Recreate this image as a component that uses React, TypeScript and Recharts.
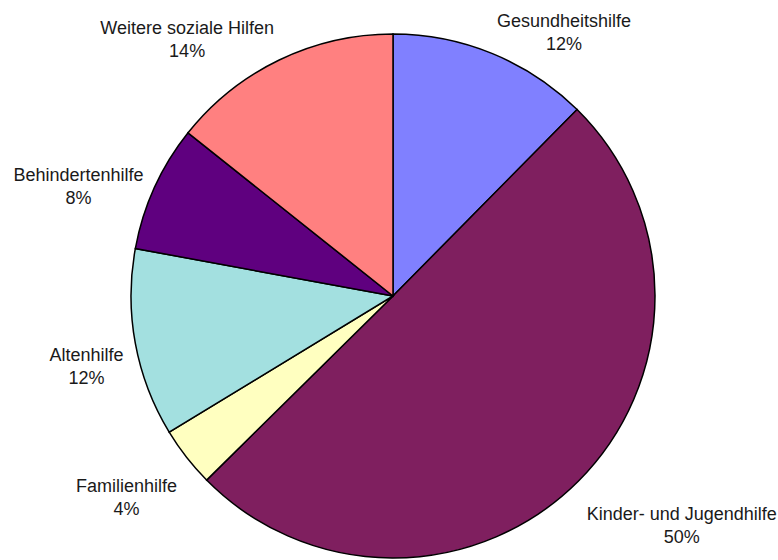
import React from 'react';
import { PieChart, Pie, Cell } from 'recharts';

const categories = [
  'Gesundheitshilfe',
  'Kinder- und Jugendhilfe',
  'Familienhilfe',
  'Altenhilfe',
  'Behindertenhilfe',
  'Weitere soziale Hilfen',
];
const shares = [12.4, 50.2, 3.7, 11.6, 7.8, 14.3];
const colors = ['#8080FF', '#7F1F5F', '#FFFFC0', '#A3E0E0', '#5F007F', '#FF8080'];

const data = categories.map((name, i) => ({ name, value: shares[i] }));

const FONT = "'Liberation Sans', Arial, sans-serif";
const FONT_SIZE = 18;

let ctx: CanvasRenderingContext2D | null = null;
const measure = (s: string): number => {
  try {
    if (!ctx) ctx = document.createElement('canvas').getContext('2d');
    if (ctx) {
      ctx.font = `${FONT_SIZE}px ${FONT}`;
      return ctx.measureText(s).width;
    }
  } catch (e) {}
  return s.length * FONT_SIZE * 0.5;
};

const renderLabel = (props: any) => {
  const { cx, cy, midAngle, outerRadius, percent, index } = props;
  const rad = (midAngle * Math.PI) / 180;
  const sinT = Math.cos(rad);
  const cosT = Math.sin(rad);
  const name = categories[index];
  const pct = `${Math.round(percent * 100)}%`;
  const w = Math.max(measure(name), measure(pct));
  const edgeX = cx + (outerRadius + 12) * sinT;
  const centerX = sinT >= 0 ? edgeX + w / 2 : edgeX - w / 2;
  const centerY = cy + 15 - (outerRadius + 40) * cosT;
  return (
    <text
      key={`lbl-${index}`}
      textAnchor="middle"
      fontFamily={FONT}
      fontSize={FONT_SIZE}
      fill="#1a1a1a"
    >
      <tspan x={centerX} y={centerY - 11.5 + 6.5}>{name}</tspan>
      <tspan x={centerX} y={centerY + 11.5 + 6.5}>{pct}</tspan>
    </text>
  );
};

export default function App() {
  return (
    <div style={{ position: 'absolute', left: 0, top: 0, width: 778, height: 560, background: '#fff' }}>
      <PieChart width={778} height={560} margin={{ top: 0, right: 0, bottom: 0, left: 0 }}>
        <Pie
          data={data}
          dataKey="value"
          nameKey="name"
          cx={393}
          cy={296}
          outerRadius={262}
          startAngle={90}
          endAngle={-270}
          stroke="#000"
          strokeWidth={1.5}
          label={renderLabel}
          labelLine={false}
          isAnimationActive={false}
        >
          {data.map((d, i) => (
            <Cell key={d.name} fill={colors[i]} />
          ))}
        </Pie>
      </PieChart>
    </div>
  );
}
